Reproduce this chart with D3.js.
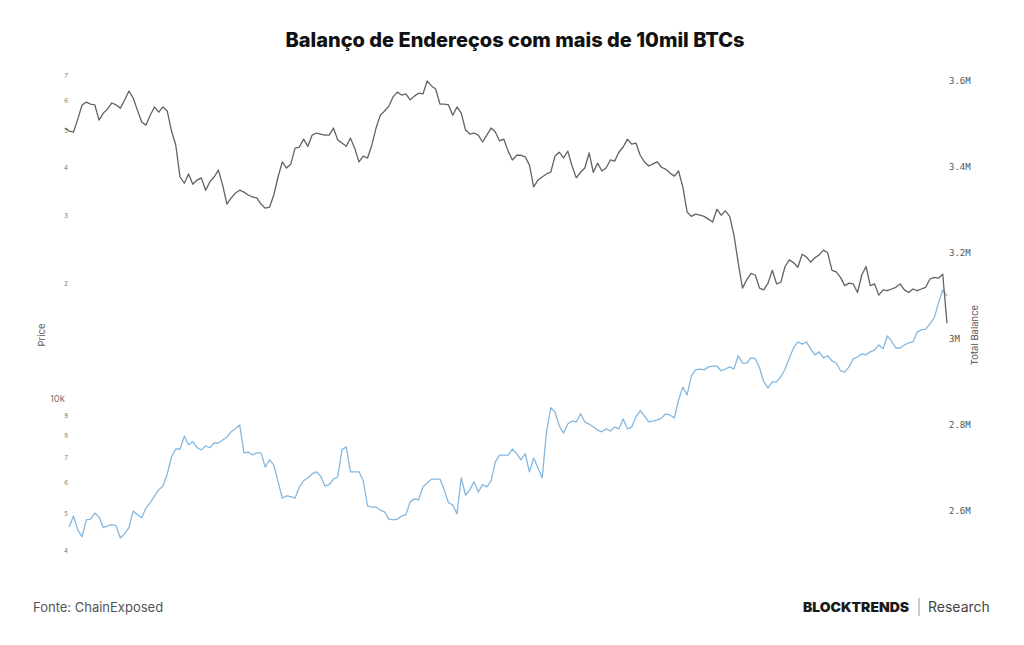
<!DOCTYPE html>
<html>
<head>
<meta charset="utf-8">
<script src="https://cdn.jsdelivr.net/npm/d3@7"></script>
<style>
  body { margin: 0; background: #fff; }
  svg { display: block; font-family: Inter, "Noto Sans", sans-serif; }
</style>
</head>
<body>
<svg id="chart" width="1024" height="645"></svg>
<script>
// one reading every 3 days, from 27 Feb 2021
const startDate = new Date(2021, 1, 27)
const stepDays = 3

// BTC price, thousands of USD
const priceK = [
  50.9,50.0,49.7,53.7,58.5,59.5,58.8,58.5,53.4,55.7,
  57.1,59.2,58.5,57.4,60.3,63.6,61.0,56.7,52.8,51.8,
  55.0,57.8,56.0,57.8,56.4,50.0,45.9,37.9,36.5,38.6,
  36.3,37.2,37.7,35.0,36.8,37.9,39.5,36.1,32.2,33.4,
  34.4,35.0,34.6,34.0,33.6,33.4,32.2,31.4,31.6,34.0,
  37.9,41.5,40.0,41.0,45.1,45.4,47.6,45.6,48.8,49.4,
  49.1,48.8,48.8,50.9,47.4,46.5,45.6,47.9,45.1,41.5,
  43.0,42.5,45.9,50.9,55.0,56.4,58.1,61.4,63.2,62.1,
  62.5,60.3,61.7,62.8,62.5,67.6,65.6,64.4,58.8,58.8,
  58.5,55.0,57.8,55.7,50.3,49.1,49.4,48.8,46.8,48.8,
  50.9,49.7,47.1,47.6,44.3,42.0,43.2,43.2,42.8,40.7,
  35.7,37.2,37.9,38.6,39.0,43.0,44.0,42.5,44.3,40.5,
  37.7,39.0,40.0,43.8,39.0,41.2,39.3,40.0,42.0,41.7,
  44.0,45.4,47.6,46.2,46.5,43.2,41.5,40.5,41.0,41.5,
  40.2,39.7,38.8,38.1,39.3,35.7,30.7,29.9,30.3,30.1,
  29.9,29.4,28.9,31.2,30.1,30.9,29.9,26.7,22.6,19.4,
  20.4,21.2,21.0,19.4,19.2,20.0,21.6,19.9,20.1,22.1,
  23.0,22.6,22.0,23.8,23.4,22.7,23.3,23.7,24.4,24.0,
  21.6,21.4,20.7,19.7,20.0,19.9,18.9,21.0,22.1,19.7,
  19.9,18.6,19.2,19.1,19.3,19.5,19.9,19.2,18.9,19.3,
  19.1,19.3,19.5,20.5,20.7,20.6,21.1,15.7
]

// total balance of addresses > 10k BTC, thousands of BTC
const balanceK = [
  null,2563,2588,2556,2540,2579,2581,2595,2586,2561,
  2565,2568,2565,2537,2547,2561,2600,2591,2584,2607,
  2619,2635,2649,2658,2686,2726,2744,2744,2774,2754,
  2761,2747,2742,2751,2747,2758,2758,2765,2772,2784,
  2791,2800,2735,2737,2730,2735,2735,2702,2719,2707,
  2668,2630,2635,2633,2630,2656,2670,2677,2686,2691,
  2681,2658,2661,2674,2679,2742,2749,2691,2691,2691,
  2670,2612,2609,2609,2602,2598,2581,2579,2581,2588,
  2591,2621,2628,2626,2656,2665,2674,2674,2674,2649,
  2619,2614,2593,2677,2637,2649,2668,2644,2661,2656,
  2670,2714,2730,2730,2730,2744,2733,2719,2733,2691,
  2723,2700,2677,2784,2840,2830,2798,2781,2802,2809,
  2807,2826,2807,2802,2795,2788,2784,2791,2786,2795,
  2791,2814,2791,2795,2819,2833,2821,2807,2809,2812,
  2816,2826,2823,2816,2858,2888,2870,2914,2928,2930,
  2928,2935,2937,2937,2926,2930,2935,2930,2961,2944,
  2944,2956,2954,2933,2900,2886,2900,2900,2912,2930,
  2956,2979,2993,2988,2993,2977,2963,2970,2956,2961,
  2949,2944,2926,2923,2935,2954,2958,2965,2963,2970,
  2974,2986,2977,3007,2995,2979,2979,2986,2991,2993,
  3016,3021,3023,3035,3049,3084,3114,3100
]

const priceTicks = [4000,5000,6000,7000,8000,9000,10000,20000,30000,40000,50000,60000,70000]
const priceTickLabels = ['4','5','6','7','8','9','10k','2','3','4','5','6','7']
const balanceTicks = [2600000,2800000,3000000,3200000,3400000,3600000]
const balanceTickLabels = ['2.6M','2.8M','3M','3.2M','3.4M','3.6M']

const svg = d3.select('#chart')
const plotTop = 60, plotBottom = 570, plotLeft = 65, plotRight = 947

const dates = priceK.map((d, i) => d3.timeDay.offset(startDate, i * stepDays))
const priceData = priceK.map((v, i) => ({date: dates[i], value: v * 1000}))
const balanceData = balanceK.map((v, i) => ({date: dates[i], value: v == null ? null : v * 1000}))

const x = d3.scaleTime().domain(d3.extent(dates)).range([plotLeft, plotRight])
const yPrice = d3.scaleLog().domain([3550, 76700]).range([plotBottom, plotTop])
const yBalance = d3.scaleLinear().domain([2462600, 3648800]).range([plotBottom, plotTop])

// title
svg.append('text')
  .attr('x', 515).attr('y', 47)
  .attr('text-anchor', 'middle')
  .attr('font-size', 20).attr('font-weight', 800)
  .attr('fill', '#111')
  .text('Balanço de Endereços com mais de 10mil BTCs')

// left axis (log price)
const leftAxis = svg.append('g')
  .attr('transform', 'translate(69,0)')
  .call(d3.axisLeft(yPrice).tickValues(priceTicks).tickSize(0).tickPadding(0)
    .tickFormat((d, i) => priceTickLabels[i]))
leftAxis.select('.domain').remove()
leftAxis.selectAll('text')
  .attr('font-family', 'Inter, sans-serif')
  .attr('fill', '#777')
  .attr('font-size', d => d === 10000 ? 9.5 : 6)
  .attr('dx', d => d === 10000 ? -4 : -1)

// right axis (balance)
const rightAxis = svg.append('g')
  .attr('transform', 'translate(949,0)')
  .call(d3.axisRight(yBalance).tickValues(balanceTicks).tickSize(0).tickPadding(0)
    .tickFormat((d, i) => balanceTickLabels[i]))
rightAxis.select('.domain').remove()
rightAxis.selectAll('text')
  .attr('font-family', '"DejaVu Sans Mono", monospace')
  .attr('font-size', 9)
  .attr('fill', '#555')

// axis titles
svg.append('text')
  .attr('transform', 'translate(45,335) rotate(-90)')
  .attr('text-anchor', 'middle')
  .attr('font-size', 9.5).attr('fill', '#555')
  .text('Price')

svg.append('text')
  .attr('transform', 'translate(978,335) rotate(-90)')
  .attr('text-anchor', 'middle')
  .attr('font-size', 9.5).attr('fill', '#555')
  .text('Total Balance')

// lines
const priceLine = d3.line()
  .x(d => x(d.date))
  .y(d => yPrice(d.value))

const balanceLine = d3.line()
  .defined(d => d.value != null)
  .x(d => x(d.date))
  .y(d => yBalance(d.value))

svg.append('path')
  .datum(balanceData)
  .attr('fill', 'none')
  .attr('stroke', '#86b8de')
  .attr('stroke-width', 1.3)
  .attr('stroke-linejoin', 'round')
  .attr('d', balanceLine)

svg.append('path')
  .datum(priceData)
  .attr('fill', 'none')
  .attr('stroke', '#626262')
  .attr('stroke-width', 1.3)
  .attr('stroke-linejoin', 'round')
  .attr('d', priceLine)

// footer
svg.append('text')
  .attr('x', 33).attr('y', 612)
  .attr('font-size', 13).attr('fill', '#555')
  .text('Fonte: ChainExposed')

svg.append('text')
  .attr('x', 803).attr('y', 612)
  .attr('font-size', 13).attr('font-weight', 900)
  .attr('fill', '#1a1a1a')
  .attr('textLength', 106).attr('lengthAdjust', 'spacingAndGlyphs')
  .text('BLOCKTRENDS')

svg.append('line')
  .attr('x1', 919).attr('x2', 919)
  .attr('y1', 598).attr('y2', 616)
  .attr('stroke', '#999').attr('stroke-width', 1)

svg.append('text')
  .attr('x', 928).attr('y', 612)
  .attr('font-size', 14).attr('fill', '#444')
  .text('Research')
</script>
</body>
</html>
